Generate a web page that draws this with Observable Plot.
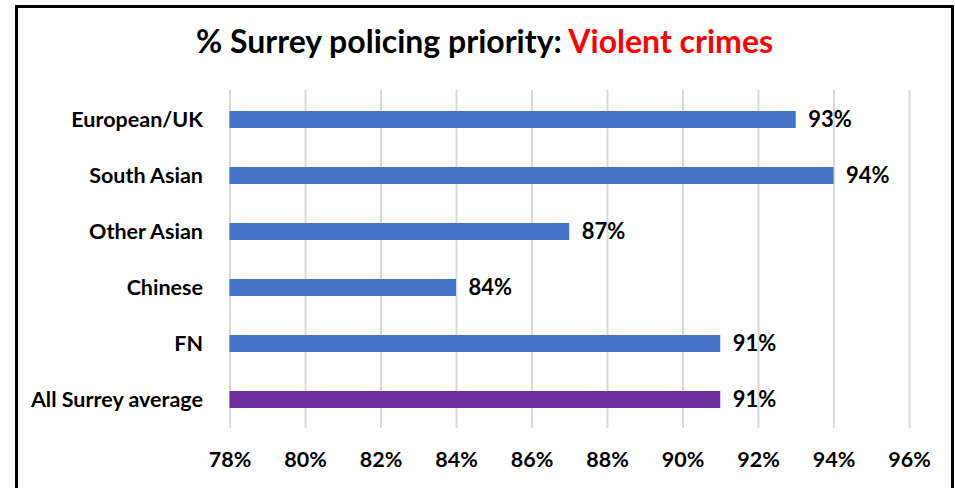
<!DOCTYPE html>
<html><head><meta charset="utf-8">
<script src="https://cdn.jsdelivr.net/npm/d3@7"></script>
<script src="https://cdn.jsdelivr.net/npm/@observablehq/plot@0.6"></script>
<style>
body{margin:0;background:#fff;}
#wrap{position:relative;width:955px;height:488px;overflow:hidden;font-family:Lato,"Open Sans",sans-serif;background:#fff;}
#frame{position:absolute;left:15px;top:5px;width:939px;height:520px;border:3px solid #000;box-sizing:border-box;}
#title{position:absolute;left:15px;width:939px;top:23px;text-align:center;font-weight:bold;font-size:32px;line-height:36px;color:#000;}
#title span{color:#ff0000;}
#chart{position:absolute;left:0;top:70px;}
</style></head>
<body>
<div id="wrap">
  <div id="frame"></div>
  <div id="title">% Surrey policing priority: <span>Violent crimes</span></div>
  <div id="chart"></div>
</div>
<script>
const categories = ["European/UK", "South Asian", "Other Asian", "Chinese", "FN", "All Surrey average"];
const values = [93, 94, 87, 84, 91, 91];
const barColors = ["#4472C4", "#4472C4", "#4472C4", "#4472C4", "#4472C4", "#7030A0"];
const xTicks = [78, 80, 82, 84, 86, 88, 90, 92, 94, 96];

const data = categories.map((c, i) => ({category: c, value: values[i], color: barColors[i]}));

const chart = Plot.plot({
  width: 955,
  height: 418,
  marginLeft: 229.5,
  marginRight: 46,
  marginTop: 20,
  marginBottom: 60,
  style: {fontFamily: "Lato, 'Open Sans', sans-serif", fontSize: "21px", fontWeight: "bold", color: "#000", background: "transparent"},
  x: {domain: [78, 96], ticks: xTicks, tickFormat: d => d + "%", label: null},
  y: {domain: categories, label: null, paddingInner: 0.7, paddingOuter: 0.35},
  marks: [
    Plot.ruleX(xTicks, {stroke: "#D9D9D9", strokeWidth: 2}),
    Plot.axisX({ticks: xTicks, tickFormat: d => d + "%", tickSize: 0, tickPadding: 23, fontSize: 21.5, fontWeight: "bold", label: null}),
    Plot.axisY({tickSize: 0, tickPadding: 27, fontSize: 21.5, fontWeight: "bold", label: null}),
    Plot.barX(data, {x1: 78, x2: "value", y: "category", fill: "color"}),
    Plot.text(data, {x: "value", y: "category", text: d => d.value + "%", dx: 12, textAnchor: "start", fontSize: 22, fontWeight: "bold", fill: "#000"})
  ]
});
document.getElementById("chart").appendChild(chart);
</script>
</body></html>
